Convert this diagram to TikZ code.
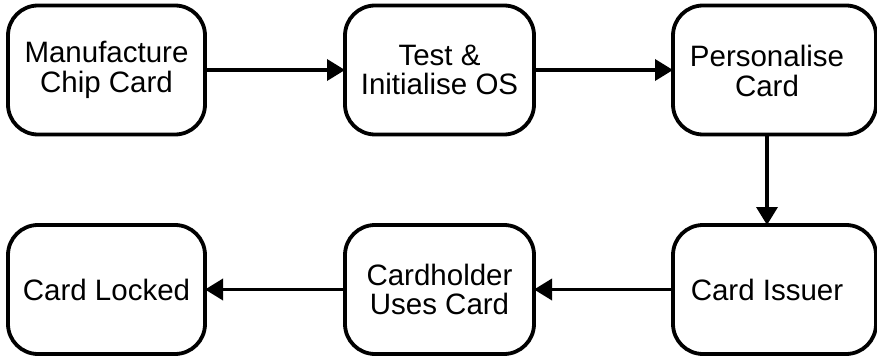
\documentclass[tikz,border=0pt]{standalone}
\usepackage{fontspec}
\setmainfont{Liberation Sans}
\usetikzlibrary{arrows.meta}

\tikzset{
  stage/.style={draw=black, line width=3.8pt, rounded corners=30pt, fill=white,
    outer sep=0pt, inner sep=0pt, minimum height=129pt,
    font=\fontsize{29.5}{29.5}\selectfont, align=center},
  flow/.style={line width=3.6pt, -{Triangle[length=18pt,width=21pt]}},
  caption/.style={font=\fontsize{29.5}{29.5}\selectfont, align=center, inner sep=0pt}
}

\begin{document}
\begin{tikzpicture}[x=1pt, y=-1pt]
  \useasboundingbox (0,0) rectangle (877,358);

  % top row
  \node[stage, minimum width=197pt] (mfg) at (106.5,70) {Manufacture\\Chip Card};
  \node[stage, minimum width=189pt] (test) at (439.5,70) {Test \&\\Initialise OS};
  \node[stage, minimum width=203pt] (pers) at (774.5,70) {};
  \node[caption] (perstxt) at (767,71) {Personalise\\Card};

  % bottom row
  \node[stage, minimum width=197pt] (lock) at (106.5,289.5) {Card Locked};
  \node[stage, minimum width=189pt] (use) at (439.5,289.5) {Cardholder\\Uses Card};
  \node[stage, minimum width=203pt] (issue) at (774.5,289.5) {};
  \node[caption] (issuetxt) at (767,289.5) {Card Issuer};

  % connectors
  \draw[flow] (mfg) -- (test);
  \draw[flow] (test) -- (pers);
  \draw[flow] ([xshift=-7.5pt]pers.south) -- ([xshift=-7.5pt]issue.north);
  \draw[flow] (issue) -- (use);
  \draw[flow] (use) -- (lock);
\end{tikzpicture}
\end{document}
